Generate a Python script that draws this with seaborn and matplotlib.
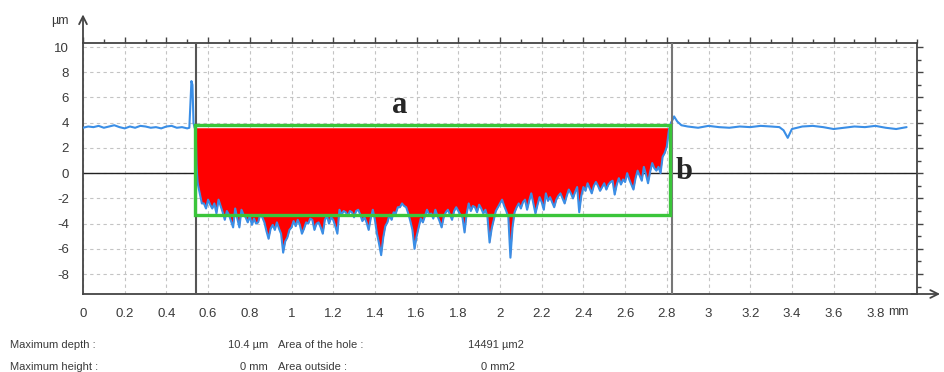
import numpy as np
import pandas as pd
import matplotlib
matplotlib.use("Agg")
import matplotlib.pyplot as plt
from matplotlib.ticker import MultipleLocator
import seaborn as sns

# profile: x in mm, height in um
left_x = [0.0, 0.025, 0.05, 0.075, 0.1, 0.125, 0.15, 0.175, 0.2, 0.225, 0.25, 0.275,
          0.3, 0.325, 0.35, 0.375, 0.4, 0.425, 0.45, 0.475, 0.5, 0.51, 0.515, 0.52,
          0.525, 0.53, 0.535, 0.54, 0.545, 0.55]
left_y = [3.6, 3.7, 3.65, 3.75, 3.6, 3.7, 3.8, 3.65, 3.55, 3.7, 3.6, 3.75,
          3.7, 3.6, 3.65, 3.55, 3.7, 3.75, 3.6, 3.65, 3.55, 3.6, 5.5, 7.3,
          7.0, 4.0, 3.6, 3.6, 0.4, -0.8]

# inside the hole the profile is sampled every 0.01 mm, from 0.56 mm
hole_start = 0.56
hole_step = 0.01
hole_y = [-1.6, -2.4, -2.4, -2.8, -2.1, -2.5, -2.8, -2.4, -3.2, -2.1,   # 0.56
          -2.6, -3.1, -3.7, -3.0, -3.3, -3.8, -4.3, -2.8, -3.6, -4.3,   # 0.66
          -2.9, -3.3, -3.5, -3.9, -3.4, -4.1, -3.6, -4.0, -3.9, -3.3,   # 0.76
          -3.5, -3.9, -4.6, -5.2, -4.4, -4.1, -4.5, -3.9, -4.4, -4.8,   # 0.86
          -6.3, -5.4, -5.1, -4.5, -4.3, -3.8, -4.2, -3.7, -4.1, -4.8,   # 0.96
          -4.4, -3.9, -4.0, -3.6, -3.7, -4.5, -4.0, -3.9, -4.3, -4.8,   # 1.06
          -3.7, -3.4, -4.0, -3.5, -3.7, -4.2, -4.8, -2.9, -3.3, -3.0,   # 1.16
          -3.1, -3.4, -3.0, -3.1, -3.5, -3.0, -2.9, -3.3, -3.8, -3.5,   # 1.26
          -3.9, -4.5, -3.6, -2.9, -3.7, -4.8, -5.6, -6.5, -5.1, -4.2,   # 1.36
          -3.9, -3.3, -3.7, -3.1, -3.2, -2.7, -2.7, -2.4, -2.6, -2.7,   # 1.46
          -3.2, -3.8, -4.5, -6.0, -5.0, -4.3, -3.6, -3.9, -3.4, -2.9,   # 1.56
          -3.3, -3.2, -3.6, -2.9, -3.4, -3.8, -4.3, -3.5, -3.1, -2.9,   # 1.66
          -3.3, -3.7, -3.0, -2.7, -3.0, -3.3, -3.5, -4.7, -3.2, -2.4,   # 1.76
          -3.0, -2.6, -2.7, -3.1, -2.5, -2.8, -3.2, -2.9, -3.5, -5.5,   # 1.86
          -4.4, -3.7, -3.0, -2.7, -2.4, -2.1, -2.6, -3.0, -3.5, -6.7,   # 1.96
          -4.3, -3.1, -2.7, -2.4, -2.8, -2.3, -2.1, -2.9, -2.2, -1.6,   # 2.06
          -2.4, -3.2, -2.5, -1.9, -2.3, -2.9, -1.6, -2.2, -1.9, -2.3,   # 2.16
          -2.7, -2.1, -1.8, -1.6, -2.0, -2.4, -1.8, -1.3, -1.6, -2.0,   # 2.26
          -1.5, -1.1, -3.1, -1.8, -1.1, -1.4, -0.8, -1.2, -1.6, -1.0,   # 2.36
          -0.7, -1.0, -1.4, -1.1, -0.8, -1.3, -0.9, -0.7, -0.6, -1.7,   # 2.46
          -0.9, -0.4, -0.9, -0.5, -0.7, 0.0, -0.5, -0.9, -1.3, -0.4,    # 2.56
          0.2, -0.2, -0.6, 0.5, -0.1, -0.8, 0.1, 0.8, 0.4, 0.2,         # 2.66
          0.5, 0.0, 1.3, 1.6, 2.1, 3.4, 4.0]                            # 2.76
hole_x = list(np.round(hole_start + hole_step * np.arange(len(hole_y)), 3))

right_x = [2.83, 2.835, 2.85, 2.87, 2.90, 2.95, 3.00, 3.05, 3.10, 3.15, 3.20, 3.25,
           3.30, 3.34, 3.36, 3.38, 3.40, 3.45, 3.50, 3.55, 3.60, 3.65, 3.70, 3.75,
           3.80, 3.85, 3.90, 3.95]
right_y = [4.3, 4.5, 4.1, 3.8, 3.7, 3.6, 3.75, 3.65, 3.6, 3.7, 3.65, 3.75,
           3.7, 3.65, 3.4, 2.8, 3.5, 3.7, 3.75, 3.65, 3.5, 3.6, 3.7, 3.65,
           3.75, 3.6, 3.5, 3.65]

edge_left, edge_right = 0.54, 2.825
box_x = (0.535, 2.815)
box_y = (-3.35, 3.8)
fill_top = 3.6

x_ticks = [0, 0.2, 0.4, 0.6, 0.8, 1, 1.2, 1.4, 1.6, 1.8, 2, 2.2, 2.4, 2.6, 2.8,
           3, 3.2, 3.4, 3.6, 3.8]
x_labels = ["0", "0.2", "0.4", "0.6", "0.8", "1", "1.2", "1.4", "1.6", "1.8", "2",
            "2.2", "2.4", "2.6", "2.8", "3", "3.2", "3.4", "3.6", "3.8"]
y_ticks = [-8, -6, -4, -2, 0, 2, 4, 6, 8, 10]
y_labels = ["-8", "-6", "-4", "-2", "0", "2", "4", "6", "8", "10"]

df = pd.DataFrame({"x": left_x + hole_x + right_x, "y": left_y + hole_y + right_y})

sns.set_style("white")
plt.rcParams["font.family"] = ["Liberation Sans", "DejaVu Sans"]

fig = plt.figure(figsize=(9.44, 3.72), dpi=100)
ax = fig.add_axes([83 / 944, 1 - 294 / 372, 834 / 944, 251 / 372])

ax.grid(True, which="major", color="#c4c4c4", linestyle=(0, (3, 3)), linewidth=0.8)
ax.axhline(0, color="#222222", lw=1.0, zorder=2)

inside = (df.x >= 0.545) & (df.x <= 2.815)
ax.fill_between(df.x, df.y, fill_top, where=inside, color="#ff0000",
                linewidth=0, zorder=3, interpolate=True)

sns.lineplot(data=df, x="x", y="y", ax=ax, color="#3a8ee6", lw=1.5,
             estimator=None, sort=False, zorder=4)

ax.axvline(edge_left, color="#555555", lw=1.5, zorder=5)
ax.axvline(edge_right, color="#777777", lw=1.5, zorder=5)

ax.add_patch(plt.Rectangle((box_x[0], box_y[0]), box_x[1] - box_x[0], box_y[1] - box_y[0],
                           fill=False, edgecolor="#3ac53a", lw=2.4, zorder=6))

ax.text(1.517, 5.4, "a", family="Liberation Serif", weight="bold", fontsize=22,
        ha="center", va="center", zorder=7)
ax.text(2.885, 0.15, "b", family="Liberation Serif", weight="bold", fontsize=22,
        ha="center", va="center", zorder=7)

ax.set_xlim(0, 4.0)
ax.set_ylim(-9.58, 10.32)
ax.set_xticks(x_ticks)
ax.set_xticklabels(x_labels)
ax.set_yticks(y_ticks)
ax.set_yticklabels(y_labels)
ax.xaxis.set_minor_locator(MultipleLocator(0.1))
ax.yaxis.set_minor_locator(MultipleLocator(1))
ax.set_xlabel("")
ax.set_ylabel("")
ax.tick_params(which="both", direction="out", color="#444444", width=1.0,
               top=True, right=True, labeltop=False, labelright=False)
ax.tick_params(which="major", length=4, labelsize=9.5, labelcolor="#3a3a3a", pad=6)
ax.tick_params(which="minor", length=3)
for s in ax.spines.values():
    s.set_color("#444444")
    s.set_linewidth(1.3)
    s.set_visible(True)

# axis arrows
ax.annotate("", xy=(0, 1.125), xytext=(0, 0.99), xycoords="axes fraction",
            arrowprops=dict(arrowstyle="->", color="#444444", lw=1.3,
                            mutation_scale=14), annotation_clip=False)
ax.annotate("", xy=(1.031, 0), xytext=(0.99, 0), xycoords="axes fraction",
            arrowprops=dict(arrowstyle="->", color="#444444", lw=1.3,
                            mutation_scale=14), annotation_clip=False)

fig.text(60 / 944, 1 - 21 / 372, "µm", ha="center", va="center", fontsize=9, color="#3a3a3a")
fig.text(898 / 944, 1 - 312 / 372, "mm", ha="center", va="center", fontsize=9, color="#3a3a3a")

# measurement summary under the plot
info = dict(fontsize=8, color="#3a3a3a", va="center")
fig.text(10 / 944, 1 - 345 / 372, "Maximum depth :", ha="left", **info)
fig.text(268 / 944, 1 - 345 / 372, "10.4 µm", ha="right", **info)
fig.text(278 / 944, 1 - 345 / 372, "Area of the hole :", ha="left", **info)
fig.text(468 / 944, 1 - 345 / 372, "14491 µm2", ha="left", **info)
fig.text(10 / 944, 1 - 367 / 372, "Maximum height :", ha="left", **info)
fig.text(268 / 944, 1 - 367 / 372, "0 mm", ha="right", **info)
fig.text(278 / 944, 1 - 367 / 372, "Area outside :", ha="left", **info)
fig.text(481 / 944, 1 - 367 / 372, "0 mm2", ha="left", **info)

fig.savefig("out.png", dpi=100)
